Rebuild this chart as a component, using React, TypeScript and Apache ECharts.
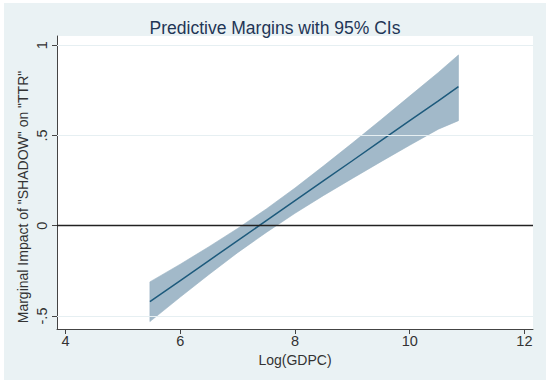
import React, { useEffect, useRef } from "react";
import * as echarts from "echarts";

const xVals = [5.47, 6, 6.5, 7, 7.5, 8, 8.5, 9, 9.5, 10, 10.5, 10.85];
const margin = [-0.421, -0.304, -0.193, -0.082, 0.028, 0.139, 0.25, 0.36, 0.471, 0.582, 0.692, 0.77];
const upperCI = [-0.311, -0.213, -0.116, -0.015, 0.093, 0.209, 0.332, 0.458, 0.587, 0.718, 0.849, 0.946];
const lowerCI = [-0.531, -0.395, -0.27, -0.149, -0.037, 0.069, 0.168, 0.262, 0.355, 0.446, 0.535, 0.582];
const xTicks = [4, 6, 8, 10, 12];
const yTicks = [-0.5, 0, 0.5, 1];
const yTickLabels: Record<string, string> = { "-0.5": "-.5", "0": "0", "0.5": ".5", "1": "1" };

const FONT = "'Liberation Sans', Arial, sans-serif";

export default function App() {
  const ref = useRef<HTMLDivElement>(null);
  useEffect(() => {
    if (!ref.current) return;
    const chart = echarts.init(ref.current, null, { renderer: "svg" });
    const bandPoints = xVals.map((x, i) => [x, upperCI[i]]).concat(
      xVals.map((x, i) => [x, lowerCI[i]]).reverse()
    );
    chart.setOption({
      animation: false,
      backgroundColor: "#ffffff",
      textStyle: { fontFamily: FONT },
      title: {
        text: "Predictive Margins with 95% CIs",
        left: "center",
        top: 14,
        textStyle: { fontSize: 17.5, fontWeight: "normal", color: "#1f3656", fontFamily: FONT },
      },
      graphic: [
        {
          type: "rect",
          z: -10,
          silent: true,
          shape: { x: 4, y: 3, width: 542, height: 377 },
          style: { fill: "#eaf2f4" },
        },
        {
          type: "text",
          x: 23,
          y: 197,
          rotation: Math.PI / 2,
          style: {
            text: 'Marginal Impact of "SHADOW" on "TTR"',
            fontSize: 14,
            fontFamily: FONT,
            fill: "#333333",
            align: "center",
            verticalAlign: "middle",
          },
        },
      ],
      grid: {
        left: 57,
        right: 17,
        top: 36,
        bottom: 55,
        show: true,
        backgroundColor: "#ffffff",
        borderWidth: 0,
      },
      xAxis: {
        type: "value",
        min: 3.85,
        max: 12.15,
        name: "Log(GDPC)",
        nameLocation: "middle",
        nameGap: 21,
        nameTextStyle: { fontSize: 14, color: "#333333", fontFamily: FONT },
        axisLine: { show: true, onZero: false, lineStyle: { color: "#444444", width: 1 } },
        axisTick: { show: true, length: 5, customValues: xTicks, lineStyle: { color: "#444444" } },
        axisLabel: { customValues: xTicks, fontSize: 14.5, color: "#333333", margin: 4, fontFamily: FONT },
        splitLine: { show: false },
      },
      yAxis: {
        type: "value",
        min: -0.572,
        max: 1.051,
        axisLine: { show: true, onZero: false, lineStyle: { color: "#444444", width: 1 } },
        axisTick: { show: true, length: 5, customValues: yTicks, lineStyle: { color: "#444444" } },
        axisLabel: {
          customValues: yTicks,
          rotate: 90,
          fontSize: 14.5,
          color: "#333333",
          margin: 8,
          fontFamily: FONT,
          formatter: (v: number) => yTickLabels[String(v)] ?? "",
        },
        splitLine: { show: false },
      },
      series: [
        {
          type: "custom",
          z: 1,
          data: [[xVals[0], margin[0]]],
          renderItem: (_params: any, api: any) => {
            const pts = bandPoints.map((p) => api.coord(p));
            return {
              type: "polygon",
              shape: { points: pts },
              style: { fill: "#a2b9c9", stroke: "#98b1c2", lineWidth: 0.6 },
            };
          },
          silent: true,
        },
        {
          type: "line",
          z: 3,
          data: xVals.map((x, i) => [x, margin[i]]),
          showSymbol: false,
          lineStyle: { color: "#1d5a7c", width: 1.5 },
          markLine: {
            silent: true,
            symbol: "none",
            label: { show: false },
            data: [
              { yAxis: -0.5, lineStyle: { color: "#e6eff2", width: 1, type: "solid" } },
              { yAxis: 0.5, lineStyle: { color: "#e6eff2", width: 1, type: "solid" } },
              { yAxis: 1, lineStyle: { color: "#e6eff2", width: 1, type: "solid" } },
              { yAxis: 0, lineStyle: { color: "#222222", width: 1.3, type: "solid" } },
            ],
          },
        },
      ],
    });
    return () => chart.dispose();
  }, []);
  return (
    <div
      ref={ref}
      style={{ position: "absolute", left: 0, top: 0, width: 550, height: 384 }}
    />
  );
}
